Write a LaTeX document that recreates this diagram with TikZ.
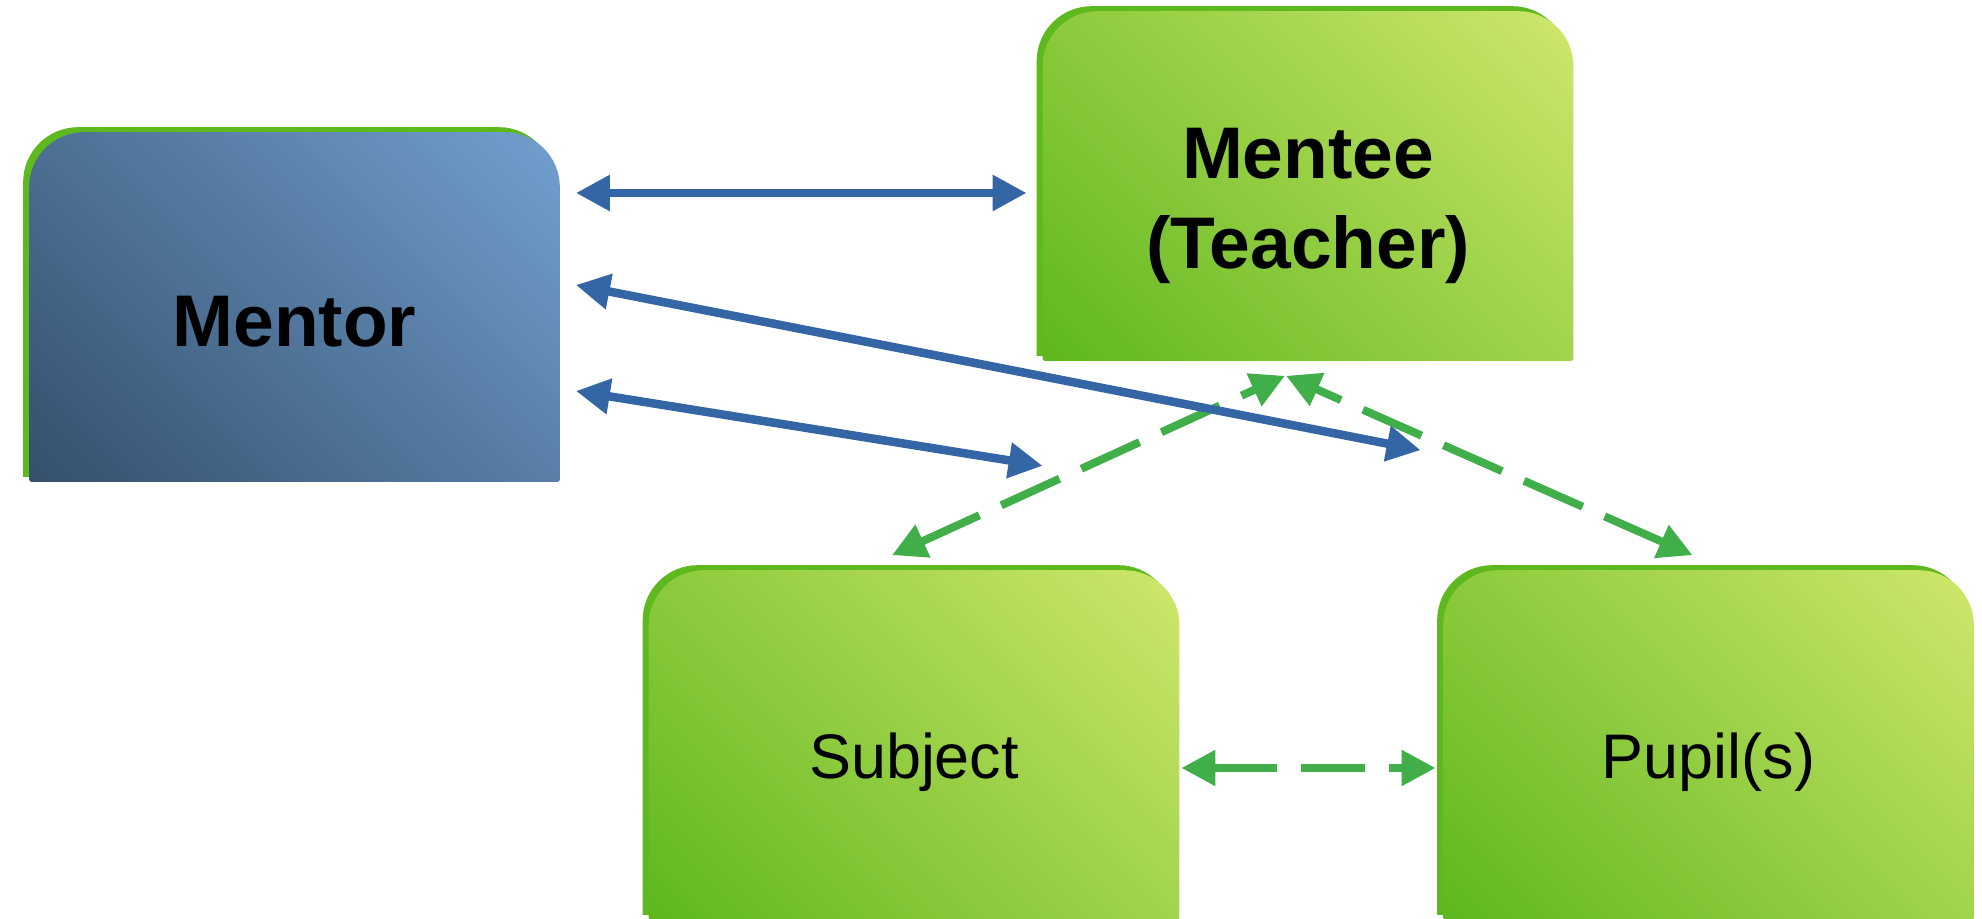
\documentclass[tikz,border=0pt]{standalone}
\usepackage{fontspec}
\setmainfont{Liberation Sans}
\usetikzlibrary{arrows.meta,backgrounds}

\definecolor{mentordark}{RGB}{52,80,108}
\definecolor{mentorlight}{RGB}{114,159,207}
\definecolor{leafdark}{RGB}{94,183,30}
\definecolor{leaflight}{RGB}{207,231,107}
\definecolor{rimgreen}{RGB}{94,185,30}
\definecolor{linkblue}{RGB}{52,101,164}
\definecolor{linkgreen}{RGB}{64,174,73}

\tikzset{
role/.style={minimum width=5.29cm, minimum height=3.48cm, inner sep=0pt},
mentorfill/.style={top color=mentorlight, bottom color=mentordark},
leaffill/.style={top color=leaflight, bottom color=leafdark},
talk/.style={draw=linkblue, line width=0.085cm, <->},
guide/.style={draw=linkgreen, line width=0.08cm, dash pattern=on 0.64cm off 0.24cm, <->}
}
\newcommand{\bigrole}{\fontsize{20.8pt}{25.5pt}\selectfont\bfseries}
\newcommand{\smallrole}{\fontsize{17.9pt}{21pt}\selectfont}

% rounded top, square bottom
\newcommand{\roleoutline}[3]{%
  ([shift={(#2,#3)}]#1.south west) -- ([shift={(#2,#3-55)}]#1.north west)
  arc[start angle=180, end angle=90, radius=55] -- ([shift={(#2-55,#3)}]#1.north east)
  arc[start angle=90, end angle=0, radius=55] -- ([shift={(#2,#3)}]#1.south east) -- cycle}
% green rim up-left, diagonal gradient inside
\newcommand{\roleshape}[2]{%
  \fill[rimgreen] \roleoutline{#1}{-6}{5};
  \begin{scope}
    \clip \roleoutline{#1}{0}{0};
    \shade[#2, transform canvas={rotate around={-45:(#1.center)}}]
      ([shift={(-310,-310)}]#1.center) rectangle ([shift={(310,310)}]#1.center);
  \end{scope}
}

\begin{document}
\begin{tikzpicture}[x=0.01cm, y=0.01cm, >={Triangle[length=0.34cm, width=0.34cm]}]
\useasboundingbox (0,0) rectangle (1982,919);

\node[role, label={[yshift=-0.15cm, font=\bigrole]center:Mentor}] (mentor) at (294.5,612) {};
\node[role, label={[yshift=-0.20cm, font=\bigrole, align=center]center:{Mentee\\(Teacher)}}] (mentee) at (1308,733) {};
\node[role, label={[yshift=-0.175cm, font=\smallrole]center:Subject}] (subject) at (914,174) {};
\node[role, label={[yshift=-0.175cm, font=\smallrole]center:Pupil(s)}] (pupil) at (1708.5,174) {};

\begin{scope}[on background layer]
  \roleshape{mentor}{mentorfill}
  \roleshape{mentee}{leaffill}
  \roleshape{subject}{leaffill}
  \roleshape{pupil}{leaffill}
\end{scope}

% free ends of the two long blue links
\coordinate (pupilgap) at ([shift={(-22.5,120)}]pupil.north west);
\coordinate (subjectgap) at ([shift={(0,-105)}]mentee.south west);

\draw[guide] ([shift={(-22,15)}]subject.north) -- ([shift={(-23,-15)}]mentee.south);
\draw[guide] ([shift={(-16,15)}]pupil.north) -- ([shift={(-22,-15)}]mentee.south);
\draw[guide] ([shift={(2,-23)}]subject.east) -- ([shift={(-7.5,-23)}]pupil.west);

\draw[talk] ([shift={(16,114)}]mentor.east) -- ([shift={(-16,-7)}]mentee.west);
\draw[talk] ([shift={(16,22)}]mentor.east) -- (pupilgap);
\draw[talk] ([shift={(16,-84)}]mentor.east) -- (subjectgap);
\end{tikzpicture}
\end{document}
